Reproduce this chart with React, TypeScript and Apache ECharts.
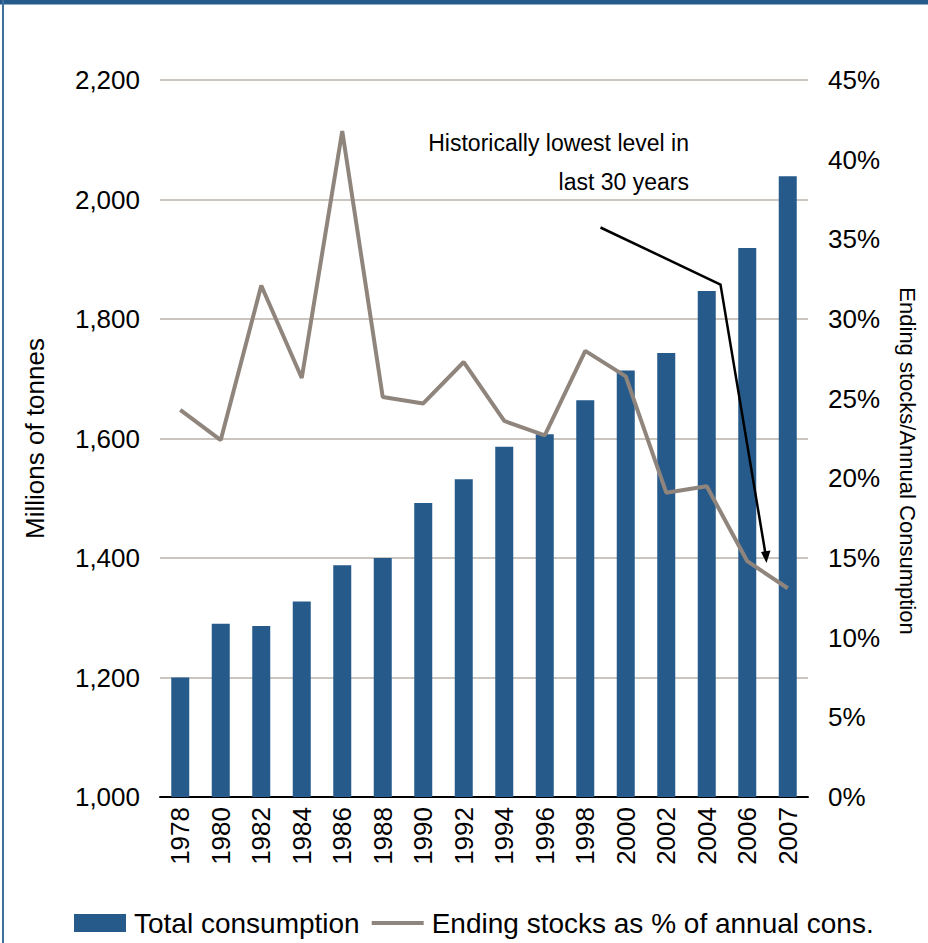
import React, { useEffect, useRef } from "react";
import * as echarts from "echarts";

const years = ["1978","1980","1982","1984","1986","1988","1990","1992","1994","1996","1998","2000","2002","2004","2006","2007"];
const totalConsumption = [1200,1290,1286,1327,1388,1400,1492,1532,1586,1607,1664,1714,1743,1847,1919,2039];
const endingStocksPct = [24.3,22.4,32.1,26.3,41.8,25.1,24.7,27.3,23.6,22.7,28.0,26.4,19.1,19.5,14.8,13.1];
const leftTicks = { min: 1000, max: 2200, interval: 200 };
const rightTicks = { min: 0, max: 45, interval: 5 };

const FONT = "'Liberation Sans', Arial, Helvetica, sans-serif";
const BLUE = "#255a8a";
const GREY = "#8f857c";

export default function App() {
  const ref = useRef<HTMLDivElement>(null);
  useEffect(() => {
    if (!ref.current) return;
    const chart = echarts.init(ref.current, undefined, { renderer: "svg" });
    chart.setOption({
      animation: false,
      backgroundColor: "#ffffff",
      grid: { left: 160, right: 120, top: 80, bottom: 146 },
      legend: {
        left: 74,
        top: 909,
        padding: 0,
        itemWidth: 52,
        itemHeight: 18,
        itemGap: 12,
        textStyle: { fontFamily: FONT, fontSize: 28, color: "#000", padding: [0, 0, 0, 3] },
        data: [
          { name: "Total consumption", icon: "rect" },
          { name: "Ending stocks as % of annual cons.", icon: "path://M0,0 L52,0 L52,4 L0,4 Z" },
        ],
      },
      xAxis: {
        type: "category",
        data: years,
        axisLine: { show: true, lineStyle: { color: "#000", width: 2 } },
        axisTick: { show: false },
        axisLabel: { interval: 0, rotate: 90, margin: 10, fontFamily: FONT, fontSize: 26, color: "#000" },
      },
      yAxis: [
        {
          type: "value",
          min: leftTicks.min,
          max: leftTicks.max,
          interval: leftTicks.interval,
          name: "Millions of tonnes",
          nameLocation: "middle",
          nameGap: 112,
          nameTextStyle: { fontFamily: FONT, fontSize: 26, color: "#000" },
          axisLine: { show: false },
          axisTick: { show: false },
          axisLabel: {
            margin: 20,
            fontFamily: FONT,
            fontSize: 26,
            color: "#000",
            formatter: (v: number) => v.toLocaleString("en-US"),
          },
          splitLine: { show: true, lineStyle: { color: "#cbc5bf", width: 2 } },
        },
        {
          type: "value",
          min: rightTicks.min,
          max: rightTicks.max,
          interval: rightTicks.interval,
          position: "right",
          axisLine: { show: false },
          axisTick: { show: false },
          axisLabel: { margin: 20, fontFamily: FONT, fontSize: 26, color: "#000", formatter: "{value}%" },
          splitLine: { show: false },
        },
      ],
      series: [
        {
          name: "Total consumption",
          type: "bar",
          data: totalConsumption,
          barWidth: 18,
          itemStyle: { color: BLUE },
          z: 2,
        },
        {
          name: "Ending stocks as % of annual cons.",
          type: "line",
          yAxisIndex: 1,
          data: endingStocksPct,
          symbol: "none",
          lineStyle: { color: GREY, width: 4 },
          itemStyle: { color: GREY },
          z: 3,
        },
      ],
      graphic: [
        { type: "rect", shape: { x: 0, y: 0, width: 928, height: 4 }, style: { fill: BLUE } },
        { type: "rect", shape: { x: 0, y: 4, width: 928, height: 1 }, style: { fill: "#8fb0cc" } },
        { type: "rect", shape: { x: 2, y: 0, width: 2, height: 943 }, style: { fill: "#3f6f9c" } },
        {
          type: "text",
          x: 689,
          y: 143,
          style: { text: "Historically lowest level in", font: `23px ${FONT}`, fill: "#000", align: "right", verticalAlign: "middle" },
        },
        {
          type: "text",
          x: 689,
          y: 182,
          style: { text: "last 30 years", font: `23px ${FONT}`, fill: "#000", align: "right", verticalAlign: "middle" },
        },
        {
          type: "polyline",
          shape: { points: [[600.5, 227.5], [720.5, 284.5], [765.5, 554]] },
          style: { stroke: "#000", lineWidth: 2.5, fill: "none" },
          z: 10,
        },
        {
          type: "polygon",
          shape: { points: [[761, 552], [770.5, 550.5], [766.5, 563]] },
          style: { fill: "#000" },
          z: 10,
        },
        {
          type: "text",
          x: 907,
          y: 461,
          rotation: -Math.PI / 2,
          style: { text: "Ending stocks/Annual Consumption", font: `22px ${FONT}`, fill: "#000", align: "center", verticalAlign: "middle" },
        },
      ],
    });
    return () => chart.dispose();
  }, []);
  return <div ref={ref} style={{ position: "fixed", left: 0, top: 0, width: 928, height: 943 }} />;
}
